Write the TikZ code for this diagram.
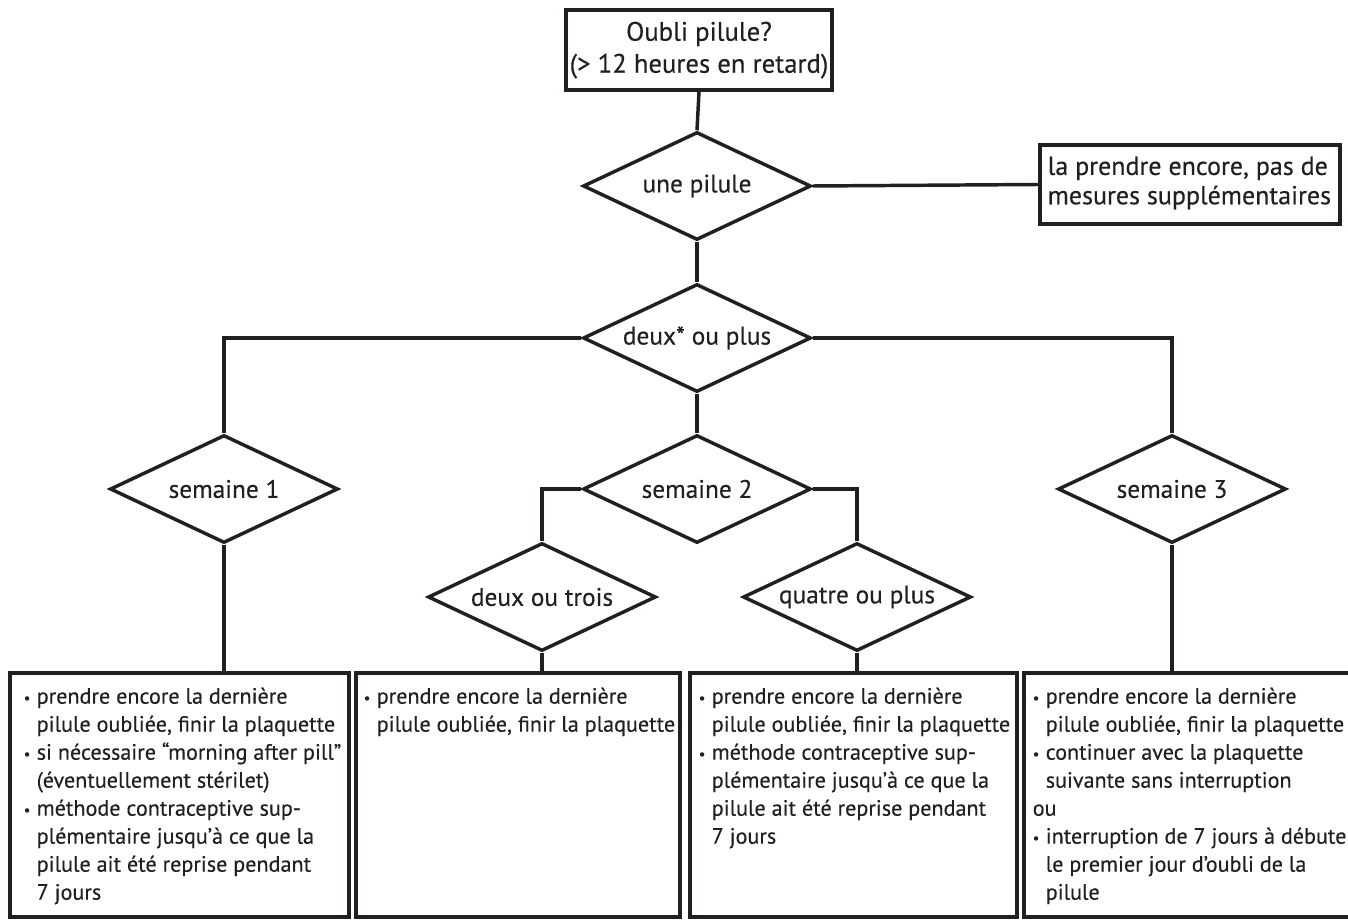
\documentclass[tikz,border=0pt]{standalone}
\usepackage{fontspec}
\setmainfont{PT Sans}[UprightFeatures={FakeBold=0.35}]
\usetikzlibrary{shapes.geometric,fit}
\definecolor{ink}{RGB}{35,31,32}
\newcommand{\bu}{\makebox[9.75pt][l]{\raisebox{0.5pt}{\fontsize{11}{11}\selectfont\textbullet}}}
\newcommand{\ii}{\hspace*{9.75pt}}
\begin{document}
\begin{tikzpicture}[x=0.75pt,y=-0.75pt,line width=2.6pt,
  box/.style={draw=ink, inner sep=0pt},
  dia/.style={draw=ink, diamond, inner sep=0pt, minimum width=171pt, minimum height=81pt,
    font=\fontsize{19}{21}\selectfont, text=ink},
  txt/.style={inner sep=0pt, align=left, anchor=north west, font=\fontsize{16.6}{21}\selectfont, text=ink},
  rtxt/.style={inner sep=0pt, align=left, anchor=north west, font=\fontsize{19.5}{22}\selectfont, text=ink},
  ctxt/.style={inner sep=0pt, align=center, anchor=north, font=\fontsize{20}{24}\selectfont, text=ink},
  wire/.style={draw=ink}]
\useasboundingbox (0,0) rectangle (1348,923);
\clip (0,0) rectangle (1348,923);

% top box
\node[box, fit={(566,10) (832,90)}] (top) {};
\node[ctxt] (toptxt) at (699,20) {Oubli pilule?\\(> 12 heures en retard)};

% diamonds
\node[dia] (d1) at (697,186) {\makebox[0pt]{une pilule}};
\node[dia] (d2) at (697,338) {\makebox[0pt]{deux* ou plus}};
\node[dia] (s1) at (224,489) {\makebox[0pt]{semaine 1}};
\node[dia] (s2) at (697,489) {\makebox[0pt]{semaine 2}};
\node[dia] (s3) at (1172,489) {\makebox[0pt]{semaine 3}};
\node[dia] (q1) at (542,597) {\makebox[0pt]{deux ou trois}};
\node[dia] (q2) at (857,597) {\makebox[0pt]{quatre ou plus}};

% right box
\node[box, fit={(1040,145) (1340,224)}] (rb) {};
\node[rtxt] (rbtxt) at (1046,155) {la prendre encore, pas de\\mesures supplémentaires};

% bottom boxes
\node[box, fit={(10,673) (349,917)}] (b1) {};
\node[box, fit={(356,673) (680,917)}] (b2) {};
\node[box, fit={(690,673) (1017,917)}] (b3) {};
\node[box, fit={(1024,673) (1370,917)}] (b4) {};

\node[txt] (t1) at (22,686) {\bu prendre encore la dernière\\
\ii pilule oubliée, finir la plaquette\\
\bu si nécessaire “morning after pill”\\
\ii (éventuellement stérilet)\\
\bu méthode contraceptive sup-\\
\ii plémentaire jusqu’à ce que la\\
\ii pilule ait été reprise pendant\\
\ii 7 jours};
\node[txt] (t2) at (362,686) {\bu prendre encore la dernière\\
\ii pilule oubliée, finir la plaquette};
\node[txt] (t3) at (697,686) {\bu prendre encore la dernière\\
\ii pilule oubliée, finir la plaquette\\
\bu méthode contraceptive sup-\\
\ii plémentaire jusqu’à ce que la\\
\ii pilule ait été reprise pendant\\
\ii 7 jours};
\node[txt] (t4) at (1031,686) {\bu prendre encore la dernière\\
\ii pilule oubliée, finir la plaquette\\
\bu continuer avec la plaquette\\
\ii suivante sans interruption\\
ou\\
\bu interruption de 7 jours à débuter\\
\ii le premier jour d’oubli de la\\
\ii pilule};

% connectors
\draw[wire] (top.south) -- (d1.north);
\draw[wire] (d1.east) -- (rb.west);
\draw[wire] (d1.south) -- (d2.north);
\draw[wire] (d2.west) -| (s1.north);
\draw[wire] (d2.east) -| (s3.north);
\draw[wire] (d2.south) -- (s2.north);
\draw[wire] (s2.west) -| (q1.north);
\draw[wire] (s2.east) -| (q2.north);
\draw[wire] (s1.south) -- (s1.south |- b1.north);
\draw[wire] (q1.south) -- (q1.south |- b2.north);
\draw[wire] (q2.south) -- (q2.south |- b3.north);
\draw[wire] (s3.south) -- (s3.south |- b4.north);
\end{tikzpicture}
\end{document}
